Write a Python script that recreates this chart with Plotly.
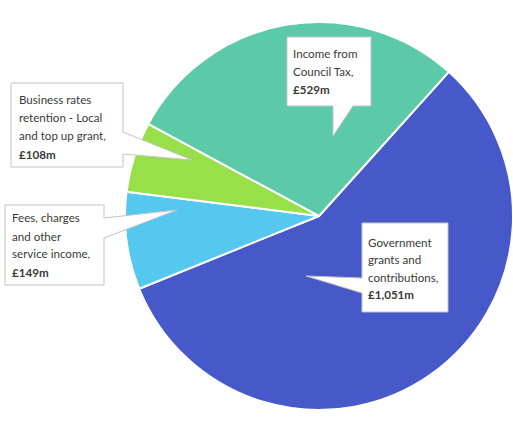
import plotly.graph_objects as go

# ---- data ----
categories = ["Government grants and contributions", "Fees, charges and other service income",
              "Business rates retention - Local and top up grant", "Income from Council Tax"]
values = [1051, 149, 108, 529]
colors = ["#4758c8", "#56c7ee", "#98e04a", "#5ccaa8"]

label_lines = [
    ["Government", "grants and", "contributions,", "<b>£1,051m</b>"],
    ["Fees, charges", "and other", "service income,", "<b>£149m</b>"],
    ["Business rates", "retention - Local", "and top up grant,", "<b>£108m</b>"],
    ["Income from", "Council Tax,", "<b>£529m</b>"],
]

W, H = 513, 426

def px(x):
    return x / W

def py(y):
    return 1 - y / H

fig = go.Figure()
fig.add_trace(go.Pie(
    labels=categories, values=values, sort=False, direction="clockwise", rotation=42,
    marker=dict(colors=colors, line=dict(color="white", width=2)),
    textinfo="none", hoverinfo="label+value", showlegend=False,
    domain=dict(x=[125 / W, 1.0], y=[0.02, 0.966]),
))

# callout outlines (pixel coordinates of box + pointer)
callouts = [
    [(362, 223), (448, 223), (448, 312), (362, 312), (362, 293), (306, 276), (362, 278)],
    [(5, 205), (104, 205), (104, 218), (177, 210), (104, 238), (104, 285), (5, 285)],
    [(11, 83), (123, 83), (123, 132), (192, 160), (123, 154), (123, 167), (11, 167)],
    [(287, 37), (371, 37), (371, 106), (353, 106), (333, 136), (333, 106), (287, 106)],
]
shapes = []
for pts in callouts:
    path = "M " + " L ".join(f"{px(x):.5f},{py(y):.5f}" for x, y in pts) + " Z"
    shapes.append(dict(type="path", path=path, xref="paper", yref="paper",
                       fillcolor="white", line=dict(color="#c4c4c4", width=1), layer="above"))

# text positions (left x, first line y, line step) in pixels
text_pos = [(366, 242, 17.5), (10, 218, 18), (17, 99.5, 18.2), (291, 53, 18.5)]
annotations = []
for lines, (x0, y0, step) in zip(label_lines, text_pos):
    for i, t in enumerate(lines):
        annotations.append(dict(x=px(x0), y=py(y0 + i * step), xref="paper", yref="paper",
                                text=t, showarrow=False, xanchor="left", yanchor="middle",
                                font=dict(family="Lato", size=11.6, color="#3a3a3a")))

fig.update_layout(width=W, height=H, margin=dict(l=0, r=0, t=0, b=0),
                  paper_bgcolor="white", plot_bgcolor="white",
                  shapes=shapes, annotations=annotations)

fig.write_html("out.html", config={"displayModeBar": False},
               post_script="document.body.style.margin='0px';document.body.style.overflow='hidden';")
